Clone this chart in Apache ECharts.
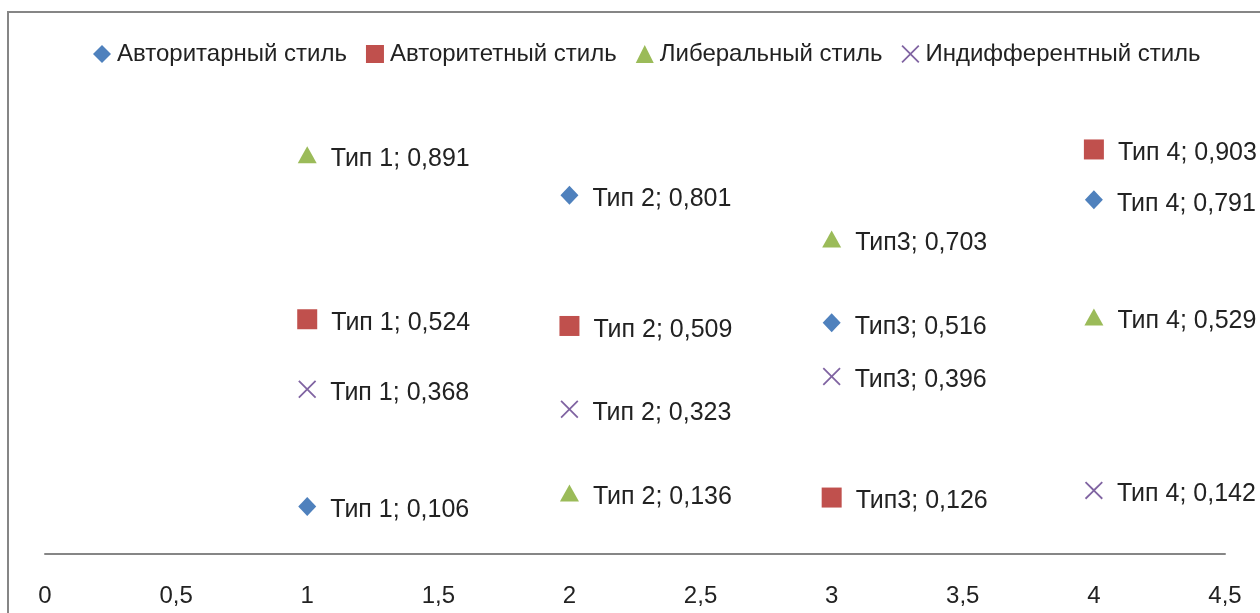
<!DOCTYPE html>
<html><head><meta charset="utf-8">
<script src="https://cdn.jsdelivr.net/npm/echarts@6/dist/echarts.min.js"></script>
<style>html,body{margin:0;padding:0;background:#fff}#c{width:1260px;height:613px}</style>
</head><body><div id="c"></div>
<script>
const xValues = [1, 2, 3, 4];
const typeNames = ['Тип 1', 'Тип 2', 'Тип3', 'Тип 4'];
const seriesNames = ['Авторитарный стиль', 'Авторитетный стиль', 'Либеральный стиль', 'Индифферентный стиль'];
const authoritarian = [0.106, 0.801, 0.516, 0.791];
const authoritative = [0.524, 0.509, 0.126, 0.903];
const liberal = [0.891, 0.136, 0.703, 0.529];
const indifferent = [0.368, 0.323, 0.396, 0.142];
const xTickLabels = ['0', '0,5', '1', '1,5', '2', '2,5', '3', '3,5', '4', '4,5'];

const FONT = 'Liberation Sans';
const colors = ['#4F81BD', '#C0504D', '#9BBB59', '#8064A2'];
const xPath = 'path://M0,0.7L0.7,0L5,4.3L9.3,0L10,0.7L5.7,5L10,9.3L9.3,10L5,5.7L0.7,10L0,9.3L4.3,5Z';
const symbols = ['diamond', 'rect', 'triangle', xPath];
const sizes = [[18, 19], [20, 20], [19, 17], [18, 18]];
const values = [authoritarian, authoritative, liberal, indifferent];

const chart = echarts.init(document.getElementById('c'));
chart.setOption({
  animation: false,
  color: colors,
  graphic: [{type: 'rect', shape: {x: 8, y: 12, width: 1400, height: 800}, style: {fill: 'none', stroke: '#868686', lineWidth: 2}}],
  legend: {
    top: 37, left: 88, itemGap: 19, itemWidth: 18, itemHeight: 18,
    textStyle: {fontFamily: FONT, fontSize: 24, color: '#222', padding: [0, 0, 0, 1]},
    data: seriesNames.map((n, i) => ({name: n, icon: symbols[i], itemStyle: {opacity: 1}}))
  },
  grid: {left: 45, right: 35, top: 106, bottom: 59},
  xAxis: {
    type: 'value', min: 0, max: 4.5, interval: 0.5,
    axisLine: {show: true, lineStyle: {color: '#868686', width: 2}},
    axisTick: {show: false}, splitLine: {show: false},
    axisLabel: {margin: 30, fontFamily: FONT, fontSize: 24, color: '#222',
      formatter: v => xTickLabels[Math.round(v * 2)]}
  },
  yAxis: {type: 'value', min: 0, max: 1, show: false, splitLine: {show: false}},
  series: seriesNames.map((n, i) => ({
    name: n, type: 'scatter', symbol: symbols[i], symbolSize: sizes[i],
    itemStyle: {opacity: 1},
    data: xValues.map((x, j) => [x, values[i][j]]),
    label: {show: true, position: 'right', distance: 14, offset: [0, 4], fontFamily: FONT, fontSize: 25, color: '#222', opacity: 1,
      formatter: p => typeNames[p.dataIndex] + '; ' + String(p.value[1]).replace('.', ',')}
  }))
});
</script></body></html>
